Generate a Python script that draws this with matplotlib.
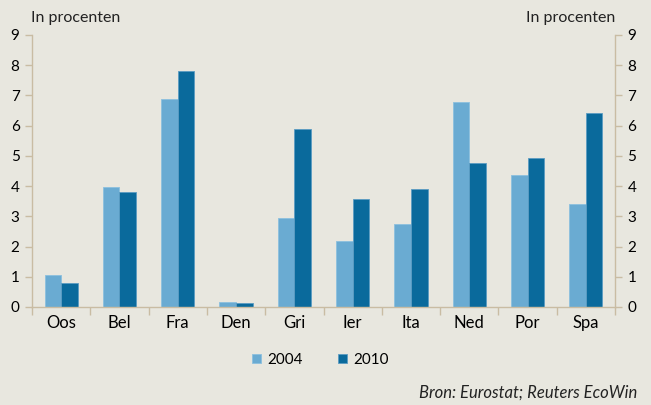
import matplotlib.pyplot as plt
import numpy as np

# landen en waarden (in procenten)
landen = ['Oos', 'Bel', 'Fra', 'Den', 'Gri', 'Ier', 'Ita', 'Ned', 'Por', 'Spa']
jaren = ['2004', '2010']
waarde_2004 = [1.06, 3.98, 6.88, 0.15, 2.96, 2.18, 2.74, 6.79, 4.37, 3.41]
waarde_2010 = [0.78, 3.82, 7.80, 0.12, 5.88, 3.59, 3.92, 4.75, 4.92, 6.43]
y_ticks = list(range(0, 10))

bg = '#e8e7df'
licht = '#6aabd2'
donker = '#0a6a9c'
spine_kleur = '#c9bca3'
plt.rcParams['font.family'] = ['Lato', 'DejaVu Sans']

fig = plt.figure(figsize=(6.51, 4.05), dpi=100, facecolor=bg)
ax = fig.add_axes([32/651, 1-307/405, 583/651, 272/405])
ax.set_facecolor(bg)

x = np.arange(len(landen))
w = 0.285
ax.bar(x - w/2, waarde_2004, w, color=licht, edgecolor='#8cc0de', linewidth=0.6, label=jaren[0])
ax.bar(x + w/2, waarde_2010, w, color=donker, edgecolor='#5b9cc2', linewidth=0.6, label=jaren[1])

ax.set_xlim(-0.5, len(landen) - 0.5)
ax.set_ylim(0, 9)
ax.set_yticks(y_ticks)
ax.set_xticks(np.arange(len(landen) + 1) - 0.5)
ax.set_xticklabels([])
ax.set_xticks(x, minor=True)
ax.set_xticklabels(landen, minor=True, fontsize=12)
ax.tick_params(axis='x', which='minor', length=0, pad=6)
ax.tick_params(axis='x', which='major', length=6, color=spine_kleur, width=1)
ax.tick_params(axis='y', length=5, color=spine_kleur, width=1, labelsize=11,
               left=True, right=True, labelleft=True, labelright=True, pad=4)

ax.spines['top'].set_visible(False)
for s in ['left', 'right', 'bottom']:
    ax.spines[s].set_color(spine_kleur)
    ax.spines[s].set_linewidth(1)

fig.text(31/651, 1-18/405, 'In procenten', fontsize=11.5, ha='left', va='center', color='#222222')
fig.text(615/651, 1-18/405, 'In procenten', fontsize=11.5, ha='right', va='center', color='#222222')

fig.legend(loc='center', bbox_to_anchor=(0.492, 1-360/405), ncol=2, frameon=False,
           handlelength=0.6, handleheight=0.6, columnspacing=2.35, fontsize=11, handletextpad=0.4)

fig.text(637/651, 1-393/405, 'Bron: Eurostat; Reuters EcoWin', fontsize=12, style='italic',
         ha='right', va='center', color='#222222')

fig.savefig('out.png', dpi=100, facecolor=bg)
